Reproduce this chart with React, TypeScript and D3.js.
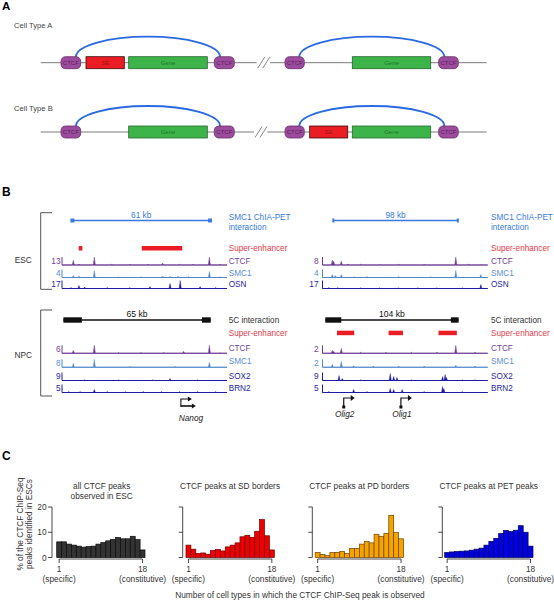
import React from 'react';
import * as d3 from 'd3';

const FONT = "'Liberation Sans', Arial, Helvetica, sans-serif";

// ---------------- Panel A: schematic ----------------
const cellTypeLabels = ['Cell Type A', 'Cell Type B'];
const rowAElements: [string, number, number][] = [
  ['CTCF', 20.3, 40], ['SE', 45.3, 83.6], ['Gene', 88, 166.6], ['CTCF', 173.6, 193.6],
  ['CTCF', 244.3, 263.6], ['Gene', 311.6, 390], ['CTCF', 398, 417.6],
];
const rowBElements: [string, number, number][] = [
  ['CTCF', 20.3, 40], ['Gene', 88, 166.6], ['CTCF', 173.6, 193.6],
  ['CTCF', 244.3, 263.6], ['SE', 269, 307], ['Gene', 311.6, 390], ['CTCF', 398, 417.6],
];
const rowLoops: [number, number][] = [[35.3, 179.3], [258.6, 403.6]];
const rowBreaks: [number, number][] = [[216, 229.3], [213.3, 226.6]];

// ---------------- Panel B: genome tracks ----------------
const escLeftChiaPet = [4.6, 65.5];
const escRightChiaPet = [8.5, 106.5];
const chiaPetLabels = ['61 kb', '98 kb'];
const npcLeft5C = [0.6, 65.8];
const npcLeft5CAnchors: [number, number][] = [[0.6, 8.8], [61.9, 65.8]];
const npcRight5C = [2.2, 107.1];
const npcRight5CAnchors: [number, number][] = [[2.2, 14.8], [101, 107.1]];
const fiveCLabels = ['65 kb', '104 kb'];
const escLeftSuperEnhancers: [number, number][] = [[7.4, 9.0], [35.3, 53.2]];
const npcRightSuperEnhancers: [number, number][] = [[11.4, 25.0], [52.0, 63.3], [91.3, 105.7]];
const leftGenes: [string, number][] = [['Nanog', 52.6]];
const rightGenes: [string, number][] = [['Olig2', 16.7], ['Olig1', 61.7]];

const escTrackNames = ['CTCF', 'SMC1', 'OSN'];
const npcTrackNames = ['CTCF', 'SMC1', 'SOX2', 'BRN2'];
const escLeftMax = [13, 4, 17];
const escRightMax = [8, 4, 17];
const npcLeftMax = [6, 8, 9, 5];
const npcRightMax = [2, 2, 9, 5];

const escLeftCTCF = [[5.0, 7.6], [7.5, 1.5], [14.3, 13], [22, 1.2], [30, 1.2], [38, 1.2], [44.5, 3.3], [52, 1.2], [58, 1.2], [65.2, 13], [70, 1.2]];
const escLeftSMC1 = [[5.0, 1], [7.5, 0.75], [14.3, 3.5], [25, 0.4], [35, 0.4], [44.5, 0.75], [47.8, 0.6], [51.3, 0.6], [56, 0.5], [65.2, 3], [70, 0.4]];
const escLeftOSN = [[4, 2.1], [7.5, 6.4], [10, 3.2], [20, 2.1], [30, 2.1], [38.9, 4.2], [47.8, 10.6], [52.3, 17], [61.1, 4.2], [68, 2.1]];
const escRightCTCF = [[7.7, 5], [8.8, 4], [14.8, 4], [20, 1], [30, 0.8], [45, 0.6], [60, 0.8], [80, 0.8], [104.9, 8], [115, 0.8], [125, 0.6]];
const escRightSMC1 = [[7.7, 1.5], [10, 1], [14.8, 1.5], [25, 0.4], [35, 0.5], [60, 0.5], [85, 0.4], [104.9, 3.5], [124.6, 1.5]];
const escRightOSN = [[5, 2.1], [12, 2.1], [30, 1.5], [45, 1.5], [60, 1.5], [75, 1.5], [90, 1.5], [110, 1.5], [124.6, 8.5]];
const npcLeftCTCF = [[5.0, 2.25], [14.3, 6], [25, 0.6], [35, 0.6], [45, 0.6], [53.8, 1.5], [65.2, 6], [70, 0.5]];
const npcLeftSMC1 = [[5.0, 4], [14.3, 8], [30, 0.8], [50, 0.8], [65.2, 5]];
const npcLeftSOX2 = [[10, 0.8], [25, 0.8], [40, 0.8], [47.8, 2.25], [60, 0.8]];
const npcLeftBRN2 = [[3, 0.6], [8, 0.6], [14.3, 1.9], [20, 0.6], [28, 0.6], [36, 0.6], [44, 0.6], [52, 0.6], [60, 0.6], [68, 0.6]];
const npcRightCTCF = [[7.7, 0.75], [8.8, 0.5], [14.8, 1.25], [30, 0.25], [50, 0.25], [70, 0.25], [90, 0.25], [104.9, 2], [120, 0.25]];
const npcRightSMC1 = [[7.7, 0.75], [14.8, 1.5], [24.5, 0.4], [40, 0.3], [60, 0.3], [80, 0.3], [104.9, 0.5], [120, 0.3]];
const npcRightSOX2 = [[13, 5.6], [15.6, 2.25], [30, 0.8], [53.3, 7.9], [56, 4.5], [58.6, 3.4], [70, 0.8], [94.5, 4.5], [96.5, 6.75], [97.5, 3.5], [110, 0.8], [120, 0.8]];
const npcRightBRN2 = [[5, 0.6], [24.5, 1.9], [35, 0.6], [53.3, 2.5], [56, 1.9], [62.7, 1.9], [80, 0.6], [94.5, 3.75], [95.5, 2.5], [110, 0.6]];

// ---------------- Panel C: histograms ----------------
const cellTypeCounts = [1, 2, 3, 4, 5, 6, 7, 8, 9, 10, 11, 12, 13, 14, 15, 16, 17, 18];
const yTicks = [0, 10, 20];
const allPeaks = [6.2, 6.2, 5.3, 4.9, 4.5, 4.1, 4.3, 4.5, 5.3, 5.9, 6.6, 7.2, 7.9, 7.4, 7.4, 8.4, 7.1, 3.0];
const sdBorders = [4.9, 3.3, 1.6, 1.8, 1.3, 2.8, 3.2, 2.6, 4.2, 4.9, 5.8, 8.2, 8.8, 8.0, 10.4, 15.0, 8.6, 3.0];
const pdBorders = [2.0, 1.2, 0.7, 2.0, 2.0, 2.4, 1.6, 3.6, 3.6, 5.3, 6.4, 5.8, 9.2, 8.4, 9.5, 16.7, 9.9, 7.4];
const petPeaks = [2.0, 2.2, 2.4, 2.5, 2.6, 2.9, 3.3, 3.7, 4.9, 6.4, 7.6, 9.5, 10.7, 10.3, 10.8, 12.6, 10.0, 4.5];
const panelTitles = [['all CTCF peaks', 'observed in ESC'], ['CTCF peaks at SD borders'], ['CTCF peaks at PD borders'], ['CTCF peaks at PET peaks']];

// ---------------- styles ----------------
const elementStyle: Record<string, { fill: string; stroke: string; text: string }> = {
  CTCF: { fill: '#9c4c9c', stroke: '#6a2c6a', text: '#5c205c' },
  SE: { fill: '#ec1c24', stroke: '#3a0a0a', text: '#a01414' },
  Gene: { fill: '#3db44a', stroke: '#27662f', text: '#1e7a2a' },
};
const trackColor: Record<string, string> = { CTCF: '#6d3b94', SMC1: '#4f89cc', OSN: '#1d1ca6', SOX2: '#1d1ca6', BRN2: '#1d1ca6' };
const labelColor: Record<string, string> = { CTCF: '#6f3f96', SMC1: '#5a8fd2', OSN: '#2626a0', SOX2: '#2626a0', BRN2: '#2626a0' };
const chiaColor = '#3a7ae0';
const seColor = '#ec1c24';
const fs = 8.3;
const labelFs = 8.2;

function txt(x: number, y: number, s: string, opts: any = {}) {
  return (
    <text x={x} y={y} fontFamily={FONT} fontSize={opts.size ?? fs} fill={opts.fill ?? '#333'}
      textAnchor={opts.anchor ?? 'start'} fontStyle={opts.italic ? 'italic' : undefined}
      fontWeight={opts.bold ? 'bold' : undefined} transform={opts.transform}>{s}</text>
  );
}

function PanelA() {
  const xs = d3.scaleLinear().domain([0, 446]).range([40.7, 486.7]);
  const rows = [rowAElements, rowBElements];
  const rowY = [62.7, 132];
  const labelY = [27.5, 110.5];
  return (
    <g>
      {txt(2, 10, 'A', { size: 11.5, bold: true, fill: '#000' })}
      {rows.map((els, ri) => {
        const y = rowY[ri];
        const [b0, b1] = rowBreaks[ri];
        return (
          <g key={ri}>
            {txt(14, labelY[ri], cellTypeLabels[ri], { size: 7.6, fill: '#444' })}
            <line x1={xs(0)} x2={xs(b0)} y1={y} y2={y} stroke="#7a7a7a" strokeWidth={1} />
            <line x1={xs(b1)} x2={xs(446)} y1={y} y2={y} stroke="#7a7a7a" strokeWidth={1} />
            {[0, 5].map((o) => (
              <line key={o} x1={xs(b0) + o + 1} y1={y + 5.5} x2={xs(b0) + o + 8} y2={y - 5.5} stroke="#777" strokeWidth={0.9} />
            ))}
            {rowLoops.map(([s, e], li) => {
              const x0 = xs(s), x1 = xs(e);
              const y0 = y - 6;
              return (
                <path key={li} d={`M${x0},${y0} A${(x1 - x0) / 2},${20} 0 0 1 ${x1},${y0}`} fill="none" stroke="#2a6ae0" strokeWidth={1.8} />
              );
            })}
            {els.map(([t, s, e], ei) => {
              const st = elementStyle[t];
              const x0 = xs(s), x1 = xs(e);
              return (
                <g key={ei}>
                  <rect x={x0} y={y - 6} width={x1 - x0} height={12} rx={t === 'CTCF' ? 4.5 : 0}
                    fill={st.fill} stroke={st.stroke} strokeWidth={0.8} />
                  {txt((x0 + x1) / 2, y + 2.2, t, { size: 6, fill: st.text, anchor: 'middle' })}
                </g>
              );
            })}
          </g>
        );
      })}
    </g>
  );
}

function signalPath(peaks: number[][], xs: any, base: number, max: number, h: number) {
  const ys = d3.scaleLinear().domain([0, max]).range([base, base - h]);
  const sorted = [...peaks].sort((a, b) => a[0] - b[0]);
  const pts: [number, number][] = [[xs.range()[0], base]];
  sorted.forEach(([p, v]) => {
    const x = xs(p);
    pts.push([x - 1.1, base], [x, ys(v)], [x + 1.1, base]);
  });
  pts.push([xs.range()[1], base]);
  return d3.area<[number, number]>().x((d) => d[0]).y0(base).y1((d) => d[1])(pts) as string;
}

function Tracks({ xs, names, maxes, data, bases, labelYs, numX, labelX }: any) {
  const x0 = xs.range()[0], x1 = xs.range()[1];
  return (
    <g>
      {names.map((n: string, i: number) => {
        const base = bases[i];
        const col = trackColor[n];
        return (
          <g key={i}>
            {txt(numX, base - 1.5, String(maxes[i]), { fill: labelColor[n], anchor: 'end' })}
            <line x1={x0} x2={x0} y1={base} y2={base - 8} stroke={col} strokeWidth={1} />
            <line x1={x0} x2={x1} y1={base} y2={base} stroke={col} strokeWidth={1.1} />
            <path d={signalPath(data[i], xs, base, maxes[i], 8)} fill={col} stroke={col} strokeWidth={0.4} />
            {txt(labelX, labelYs[i], n, { fill: labelColor[n], size: labelFs })}
          </g>
        );
      })}
    </g>
  );
}

function TSS({ x, y, name }: { x: number; y: number; name: string }) {
  return (
    <g>
      <path d={`M${x},${y + 9} V${y} H${x + 8}`} fill="none" stroke="#111" strokeWidth={1.2} />
      <path d={`M${x + 7},${y - 3} L${x + 11},${y} L${x + 7},${y + 3} Z`} fill="#111" />
      <rect x={x - 1.5} y={y + 7.5} width={3} height={3} fill="#111" />
      {txt(x + 1, y + 19, name, { italic: true, anchor: 'middle', fill: '#222' })}
    </g>
  );
}

function PanelB() {
  const xL = d3.scaleLinear().domain([0, 73]).range([62, 227]);
  const xR = d3.scaleLinear().domain([0, 130]).range([322.5, 487.7]);
  const escBases = [265, 277.5, 288.5];
  const escLabelYs = [264, 276, 287.3];
  const npcBases = [353.3, 367.3, 380.5, 392.5];
  const npcLabelYs = [350.5, 364, 379, 391];
  const cols = [
    { xs: xL, chia: escLeftChiaPet, five: npcLeft5C, anchors: npcLeft5CAnchors, seEsc: escLeftSuperEnhancers, seNpc: [] as [number, number][], numX: 60.5, labelX: 228.7, escData: [escLeftCTCF, escLeftSMC1, escLeftOSN], escMax: escLeftMax, npcData: [npcLeftCTCF, npcLeftSMC1, npcLeftSOX2, npcLeftBRN2], npcMax: npcLeftMax, squareEnds: true },
    { xs: xR, chia: escRightChiaPet, five: npcRight5C, anchors: npcRight5CAnchors, seEsc: [] as [number, number][], seNpc: npcRightSuperEnhancers, numX: 318.5, labelX: 491, escData: [escRightCTCF, escRightSMC1, escRightOSN], escMax: escRightMax, npcData: [npcRightCTCF, npcRightSMC1, npcRightSOX2, npcRightBRN2], npcMax: npcRightMax, squareEnds: false },
  ];
  return (
    <g>
      {txt(2, 196, 'B', { size: 12, bold: true, fill: '#000' })}
      <path d="M52,212.7 H40.7 V289.3 H52" fill="none" stroke="#555" strokeWidth={1} />
      <path d="M52,310 H40.7 V396 H52" fill="none" stroke="#555" strokeWidth={1} />
      {txt(23.3, 262.5, 'ESC', { anchor: 'middle', fill: '#333' })}
      {txt(23.3, 357.5, 'NPC', { anchor: 'middle', fill: '#333' })}
      {cols.map((c, ci) => {
        const cx0 = c.xs(c.chia[0]), cx1 = c.xs(c.chia[1]);
        const fx0 = c.xs(c.five[0]), fx1 = c.xs(c.five[1]);
        return (
          <g key={ci}>
            <line x1={cx0} x2={cx1} y1={220.5} y2={220.5} stroke={chiaColor} strokeWidth={1.4} />
            {c.squareEnds
              ? [cx0, cx1].map((x, k) => <rect key={k} x={x - 2} y={218.5} width={4} height={4} fill={chiaColor} />)
              : [cx0, cx1].map((x, k) => <rect key={k} x={x - 1} y={218.5} width={2} height={4} fill={chiaColor} />)}
            {txt((cx0 + cx1) / 2, 217.5, chiaPetLabels[ci], { anchor: 'middle', fill: chiaColor })}
            {txt(c.labelX, 220, 'SMC1 ChIA-PET', { fill: chiaColor, size: labelFs })}
            {txt(c.labelX, 230, 'interaction', { fill: chiaColor, size: labelFs })}
            {txt(c.labelX, 251, 'Super-enhancer', { fill: '#e83a44', size: labelFs })}
            {c.seEsc.map(([s, e], k) => (
              <rect key={k} x={c.xs(s)} y={246} width={c.xs(e) - c.xs(s)} height={4.5} fill={seColor} />
            ))}
            <Tracks xs={c.xs} names={escTrackNames} maxes={c.escMax} data={c.escData} bases={escBases} labelYs={escLabelYs} numX={c.numX} labelX={c.labelX} />
            <line x1={fx0} x2={fx1} y1={320} y2={320} stroke="#111" strokeWidth={1.3} />
            {c.anchors.map(([s, e], k) => (
              <rect key={k} x={c.xs(s)} y={317.3} width={c.xs(e) - c.xs(s)} height={5.4} fill="#111" />
            ))}
            {txt((fx0 + fx1) / 2, 317, fiveCLabels[ci], { anchor: 'middle', fill: '#111', size: 8.6 })}
            {txt(c.labelX, 323, '5C interaction', { fill: '#333', size: labelFs })}
            {txt(c.labelX, 336, 'Super-enhancer', { fill: '#e4404c', size: labelFs })}
            {c.seNpc.map(([s, e], k) => (
              <rect key={k} x={c.xs(s)} y={330.7} width={c.xs(e) - c.xs(s)} height={4.5} fill={seColor} />
            ))}
            <Tracks xs={c.xs} names={npcTrackNames} maxes={c.npcMax} data={c.npcData} bases={npcBases} labelYs={npcLabelYs} numX={c.numX} labelX={c.labelX} />
          </g>
        );
      })}
      {leftGenes.map(([n, p]) => (
        <g key={n}>
          <path d={`M${xL(p)},${406} H${xL(p) + 12}`} stroke="#111" strokeWidth={1.6} />
          <path d={`M${xL(p) + 11},${403.5} L${xL(p) + 15},${406} L${xL(p) + 11},${408.5} Z`} fill="#111" />
          <path d={`M${xL(p)},${407} V${399} H${xL(p) + 8}`} fill="none" stroke="#111" strokeWidth={1.1} />
          <path d={`M${xL(p) + 7},${396.5} L${xL(p) + 11},${399} L${xL(p) + 7},${401.5} Z`} fill="#111" />
          {txt(xL(p) + 10, 421, n, { italic: true, anchor: 'middle', fill: '#222' })}
        </g>
      ))}
      {rightGenes.map(([n, p]) => (
        <TSS key={n} x={xR(p)} y={398} name={n} />
      ))}
    </g>
  );
}

function PanelC() {
  const ys = d3.scaleLinear().domain([0, 20]).range([557.5, 507]);
  const panels = [
    { values: allPeaks, fill: '#333333', stroke: '#0a0a0a', axisX: 52, barX: 56.7 },
    { values: sdBorders, fill: '#ee0000', stroke: '#6a0000', axisX: 182.7, barX: 186 },
    { values: pdBorders, fill: '#f6a300', stroke: '#6a4200', axisX: 312.3, barX: 315.2 },
    { values: petPeaks, fill: '#0000e6', stroke: '#000050', axisX: 442.3, barX: 444.7 },
  ];
  return (
    <g>
      {txt(2, 460, 'C', { size: 12, bold: true, fill: '#000' })}
      <g transform="translate(23,524) rotate(-90)">
        {txt(0, 0, '% of the CTCF ChIP-Seq', { anchor: 'middle', fill: '#333' })}
      </g>
      <g transform="translate(31.5,524) rotate(-90)">
        {txt(0, 0, 'peaks identified in ESCs', { anchor: 'middle', fill: '#333' })}
      </g>
      {panels.map((p, pi) => {
        const xb = d3.scaleBand<number>().domain(cellTypeCounts).range([p.barX, p.barX + 88.3]).padding(0);
        const t1 = xb(1)! + xb.bandwidth() / 2;
        const t18 = xb(18)! + xb.bandwidth() / 2;
        const cx = p.barX + 44;
        const titles = panelTitles[pi];
        return (
          <g key={pi}>
            {titles.map((t, k) => <g key={k}>{txt(pi === 0 ? 101.7 : cx, 489.3 + k * 10, t, { anchor: 'middle', fill: '#333' })}</g>)}
            <line x1={p.axisX} x2={p.axisX} y1={ys(20)} y2={ys(0)} stroke="#333" strokeWidth={0.9} />
            {yTicks.map((t) => (
              <g key={t}>
                <line x1={p.axisX - 4} x2={p.axisX} y1={ys(t)} y2={ys(t)} stroke="#333" strokeWidth={0.9} />
                {pi === 0 && txt(p.axisX - 5.5, ys(t) + 3, String(t), { anchor: 'end', fill: '#333' })}
              </g>
            ))}
            {p.values.map((v, i) => (
              <rect key={i} x={xb(cellTypeCounts[i])!} y={ys(v)} width={xb.bandwidth()} height={ys(0) - ys(v)}
                fill={p.fill} stroke={p.stroke} strokeWidth={0.7} />
            ))}
            <line x1={t1} x2={t18} y1={559} y2={559} stroke="#333" strokeWidth={0.9} />
            {[t1, t18].map((t, k) => (
              <line key={k} x1={t} x2={t} y1={559} y2={563} stroke="#333" strokeWidth={0.9} />
            ))}
            {txt(t1, 572.3, '1', { anchor: 'middle', fill: '#333' })}
            {txt(t18, 572.3, '18', { anchor: 'middle', fill: '#333' })}
            {txt(t1, 581.5, '(specific)', { anchor: 'middle', fill: '#333' })}
            {txt(t18, 581.5, '(constitutive)', { anchor: 'middle', fill: '#333' })}
          </g>
        );
      })}
      {txt(300, 597.5, 'Number of cell types in which the CTCF ChIP-Seq peak is observed', { anchor: 'middle', fill: '#333' })}
    </g>
  );
}

export default function App() {
  return (
    <svg width={554} height={600} viewBox="0 0 554 600" style={{ position: 'absolute', left: 0, top: 0, background: '#fff' }}>
      <rect width={554} height={600} fill="#fff" />
      <PanelA />
      <PanelB />
      <PanelC />
    </svg>
  );
}
